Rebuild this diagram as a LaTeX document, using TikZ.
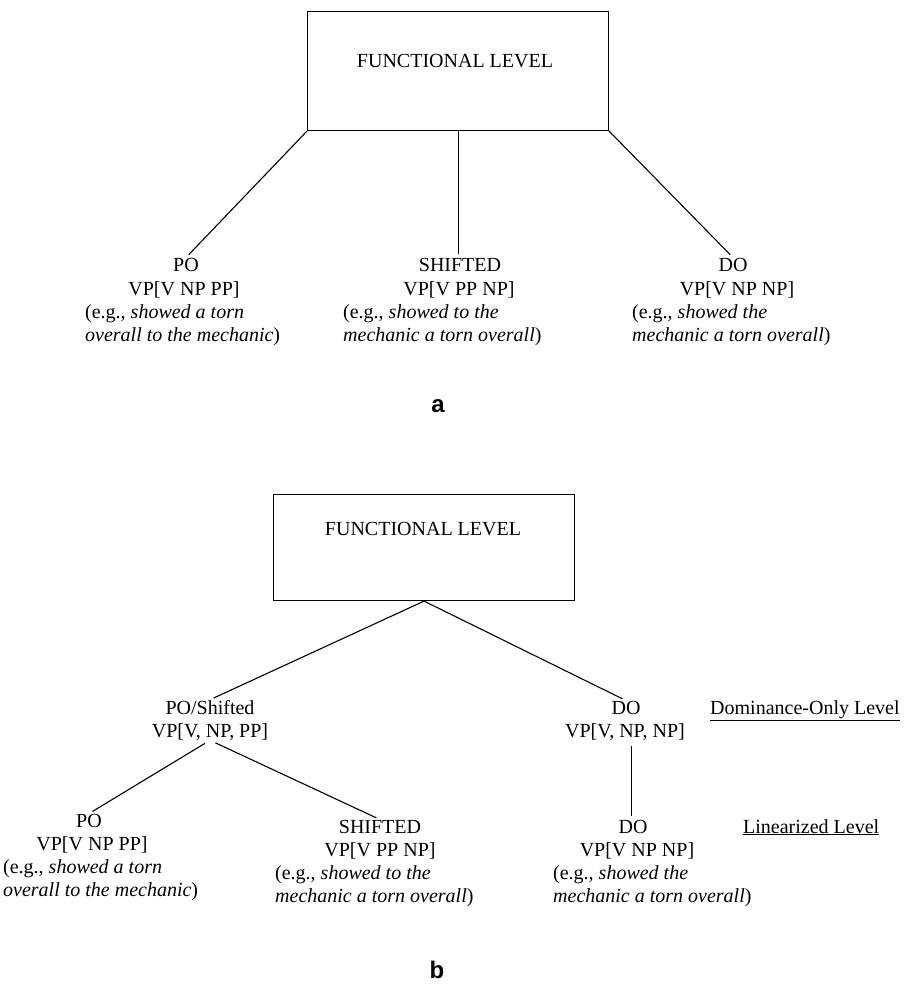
\documentclass[tikz,border=0pt]{standalone}
\usepackage{fontspec}
\setmainfont{Liberation Serif}
\newfontfamily\panelfont{Liberation Sans}
\begin{document}
\begin{tikzpicture}[x=1pt,y=-1pt,
  lbl/.style={inner sep=0pt, anchor=base, font=\fontsize{20}{24}\selectfont},
  ex/.style={lbl, anchor=base west},
  boxst/.style={draw, line width=1.1pt, inner sep=0pt, anchor=north west, minimum width=301pt},
  conn/.style={line width=1.1pt, shorten >=4pt},
  panel/.style={inner sep=0pt, anchor=base, font=\panelfont\bfseries\fontsize{24}{24}\selectfont}
]
\useasboundingbox (0,0) rectangle (903,985);

% ---------------- panel a ----------------
\node[boxst, minimum height=119pt] (boxA) at (307,11) {};
\node[lbl] (flA) at (455,67) {FUNCTIONAL LEVEL};

\node[lbl] (poA) at (186,271) {PO};
\node[lbl] (poAvp) at (184,295) {VP[V NP PP]};
\node[ex] (poAe1) at (85,318) {(e.g., \textit{showed a torn}};
\node[ex] (poAe2) at (85,341) {\textit{overall to the mechanic})};

\node[lbl] (shA) at (460,271) {SHIFTED};
\node[lbl] (shAvp) at (459,295) {VP[V PP NP]};
\node[ex] (shAe1) at (343,318) {(e.g., \textit{showed to the}};
\node[ex] (shAe2) at (343,341) {\textit{mechanic a torn overall})};

\node[lbl] (doA) at (733,271) {DO};
\node[lbl] (doAvp) at (737,295) {VP[V NP NP]};
\node[ex] (doAe1) at (632,318) {(e.g., \textit{showed the}};
\node[ex] (doAe2) at (632,341) {\textit{mechanic a torn overall})};

\draw[conn] (boxA.south west) -- (poA.north);
\draw[conn] (boxA.south) -- (boxA.south |- shA.north);
\draw[conn] (boxA.south east) -- (doA.north);

\node[panel] (labA) at (438,412) {a};

% ---------------- panel b ----------------
\node[boxst, minimum height=106pt] (boxB) at (273,494) {};
\node[lbl] (flB) at (423,535) {FUNCTIONAL LEVEL};

\node[lbl] (pos) at (210,714) {PO/Shifted};
\node[lbl] (posvp) at (210,737) {VP[V, NP, PP]};
\node[lbl] (doB) at (626,714) {DO};
\node[lbl] (doBvp) at (625,737) {VP[V, NP, NP]};
\node[ex] (domlev) at (710,714) {\underline{Dominance-Only Level}};

\draw[conn] (boxB.south) -- (pos.north);
\draw[conn] (boxB.south) -- (doB.north);

\node[lbl] (poB) at (89,827) {PO};
\node[lbl] (poBvp) at (92,850) {VP[V NP PP]};
\node[ex] (poBe1) at (3,873) {(e.g., \textit{showed a torn}};
\node[ex] (poBe2) at (3,896) {\textit{overall to the mechanic})};

\node[lbl] (shB) at (380,833) {SHIFTED};
\node[lbl] (shBvp) at (380,856) {VP[V PP NP]};
\node[ex] (shBe1) at (275,879) {(e.g., \textit{showed to the}};
\node[ex] (shBe2) at (275,902) {\textit{mechanic a torn overall})};

\node[lbl] (doC) at (633,833) {DO};
\node[lbl] (doCvp) at (637,856) {VP[V NP NP]};
\node[ex] (doCe1) at (553,879) {(e.g., \textit{showed the}};
\node[ex] (doCe2) at (553,902) {\textit{mechanic a torn overall})};
\node[ex] (linlev) at (743,833) {\underline{Linearized Level}};

\draw[conn, shorten <=6pt] (posvp.south) -- (poB.north);
\draw[conn, shorten <=6pt] (posvp.south) -- (shB.north);
\draw[line width=0.8pt, shorten <=6pt, shorten >=4pt] (doBvp.south -| doC.north) ++(-2,0) coordinate (vtop) -- (vtop |- doC.north);

\node[panel] (labB) at (437,978) {b};
\end{tikzpicture}
\end{document}
